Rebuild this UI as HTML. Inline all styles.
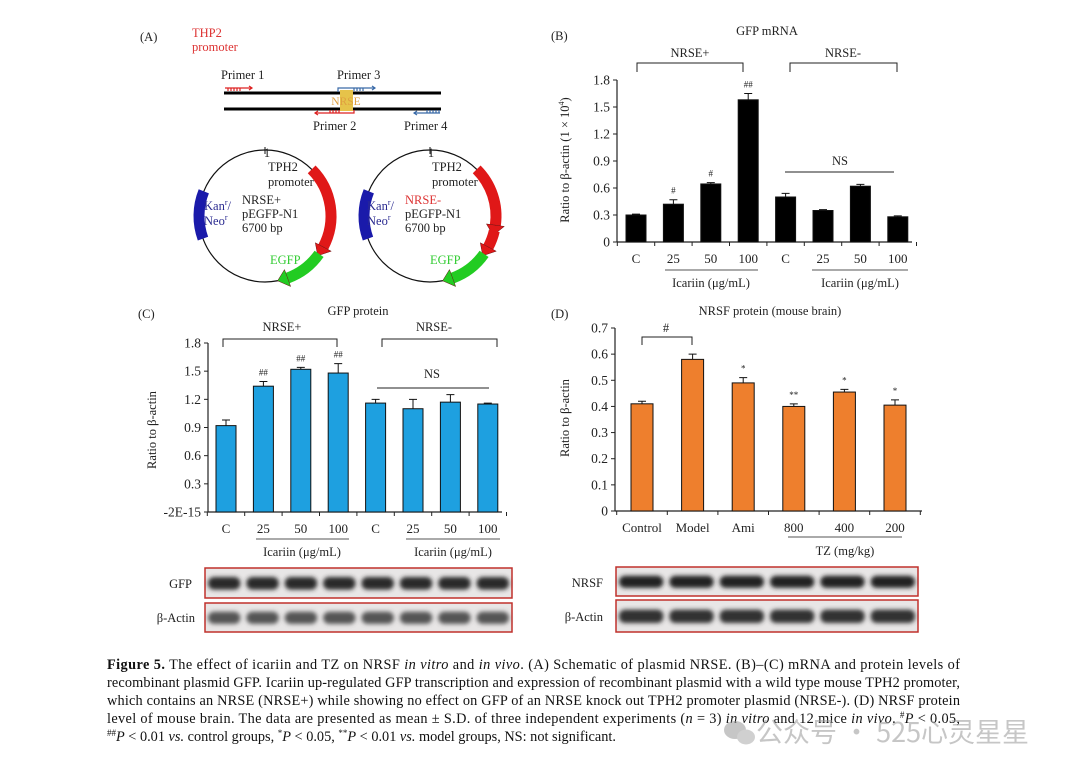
<!DOCTYPE html>
<html><head><meta charset="utf-8"><style>
html,body{margin:0;padding:0;background:#fff;}
svg{display:block;font-family:"Liberation Serif","Noto Serif CJK SC",serif;}
.t{font-size:12.5px;fill:#222;}
.cap{font-size:14.3px;fill:#111;}
</style></head><body>
<svg id="fig" width="1080" height="775" viewBox="0 0 1080 775" xmlns="http://www.w3.org/2000/svg">
<defs>
<filter id="blur" x="-20%" y="-50%" width="140%" height="200%"><feGaussianBlur stdDeviation="2.2"/></filter>
</defs>

<!-- Panel A -->
<g id="panelA">
<text x="140" y="41" class="t" font-size="13">(A)</text>
<text x="192" y="37" font-size="12.5" fill="#d33">THP2</text>
<text x="192" y="51" font-size="12.5" fill="#d33">promoter</text>
<text x="221" y="79" class="t">Primer 1</text>
<text x="337" y="79" class="t">Primer 3</text>
<text x="313" y="130" class="t">Primer 2</text>
<text x="404" y="130" class="t">Primer 4</text>
<line x1="224" y1="93" x2="441" y2="93" stroke="#000" stroke-width="3"/>
<line x1="224" y1="109" x2="441" y2="109" stroke="#000" stroke-width="3"/>
<rect x="340" y="90" width="13" height="21" fill="#e6c34a"/>
<text x="346" y="105" font-size="11.5" fill="#e0a040" text-anchor="middle">NRSE</text>
<g stroke="#d22" stroke-width="1.2" fill="none">
<path d="M225 88 H252"/><path d="M249 86 L252 88 L249 90"/><path d="M228 88v3M231 88v3M234 88v3M237 88v3M240 88v3"/></g>
<g stroke="#3a6aa8" stroke-width="1.2" fill="none">
<path d="M338 92 V88 H375"/><path d="M372 86 L375 88 L372 90"/><path d="M354 88v3M357 88v3M360 88v3M363 88v3"/></g>
<g stroke="#d22" stroke-width="1.2" fill="none">
<path d="M354 110 V113 H315"/><path d="M318 111 L315 113 L318 115"/><path d="M330 113v-3M333 113v-3M336 113v-3M339 113v-3"/></g>
<g stroke="#3a6aa8" stroke-width="1.2" fill="none">
<path d="M440 113 H414"/><path d="M417 111 L414 113 L417 115"/><path d="M427 113v-3M430 113v-3M433 113v-3M436 113v-3M439 113v-3"/></g>
<g id="plasmids"></g>
<text x="267" y="157" class="t" font-size="12" text-anchor="middle">1</text>
<text x="268" y="171" class="t">TPH2</text>
<text x="268" y="186" class="t">promoter</text>
<text x="242" y="204" class="t">NRSE+</text>
<text x="242" y="218" class="t">pEGFP-N1</text>
<text x="242" y="232" class="t">6700 bp</text>
<text x="204" y="210" font-size="12.5" fill="#2a2a90">Kan<tspan font-size="8" dy="-5">r</tspan><tspan dy="5">/</tspan></text>
<text x="204" y="225" font-size="12.5" fill="#2a2a90">Neo<tspan font-size="8" dy="-5">r</tspan></text>
<text x="270" y="264" font-size="12.5" fill="#3c3">EGFP</text>
<text x="431" y="157" class="t" font-size="12" text-anchor="middle">1</text>
<text x="432" y="171" class="t">TPH2</text>
<text x="432" y="186" class="t">promoter</text>
<text x="405" y="204" font-size="12.5" fill="#d33">NRSE-</text>
<text x="405" y="218" class="t">pEGFP-N1</text>
<text x="405" y="232" class="t">6700 bp</text>
<text x="367" y="210" font-size="12.5" fill="#2a2a90">Kan<tspan font-size="8" dy="-5">r</tspan><tspan dy="5">/</tspan></text>
<text x="367" y="225" font-size="12.5" fill="#2a2a90">Neo<tspan font-size="8" dy="-5">r</tspan></text>
<text x="430" y="264" font-size="12.5" fill="#3c3">EGFP</text>
</g>

<!-- Panel B -->
<g id="panelB">
<text x="551" y="40" class="t" font-size="13">(B)</text>
<text x="767" y="35" class="t" font-size="12" text-anchor="middle">GFP mRNA</text>
<text x="690" y="57" class="t" text-anchor="middle">NRSE+</text>
<text x="843" y="57" class="t" text-anchor="middle">NRSE-</text>
<path d="M637 72 V63 H743 V72" fill="none" stroke="#222"/>
<path d="M790 72 V63 H897 V72" fill="none" stroke="#222"/>
<line x1="785" y1="172" x2="894" y2="172" stroke="#222"/>
<text x="840" y="165" class="t" font-size="8.5" text-anchor="middle">NS</text>
<text transform="translate(569,160) rotate(-90)" class="t" font-size="12" text-anchor="middle">Ratio to β-actin (1 × 10<tspan font-size="8" dy="-5">4</tspan><tspan dy="5">)</tspan></text>
<line x1="665" y1="270" x2="758" y2="270" stroke="#555"/>
<line x1="812" y1="270" x2="908" y2="270" stroke="#555"/>
<text x="711" y="287" class="t" text-anchor="middle">Icariin (μg/mL)</text>
<text x="860" y="287" class="t" text-anchor="middle">Icariin (μg/mL)</text>
</g>

<!-- Panel C -->
<g id="panelC">
<text x="138" y="318" class="t" font-size="13">(C)</text>
<text x="358" y="315" class="t" font-size="12" text-anchor="middle">GFP protein</text>
<text x="282" y="331" class="t" text-anchor="middle">NRSE+</text>
<text x="434" y="331" class="t" text-anchor="middle">NRSE-</text>
<path d="M223 347 V339 H337 V347" fill="none" stroke="#222"/>
<path d="M382 347 V339 H497 V347" fill="none" stroke="#222"/>
<line x1="377" y1="388" x2="489" y2="388" stroke="#222"/>
<text x="432" y="378" class="t" font-size="8.5" text-anchor="middle">NS</text>
<text transform="translate(156,430) rotate(-90)" class="t" font-size="12" text-anchor="middle">Ratio to β-actin</text>
<line x1="256" y1="539" x2="349" y2="539" stroke="#555"/>
<line x1="406" y1="539" x2="500" y2="539" stroke="#555"/>
<text x="302" y="556" class="t" text-anchor="middle">Icariin (μg/mL)</text>
<text x="453" y="556" class="t" text-anchor="middle">Icariin (μg/mL)</text>
<text x="192" y="588" class="t" text-anchor="end">GFP</text>
<text x="195" y="622" class="t" text-anchor="end">β-Actin</text>
</g>

<!-- Panel D -->
<g id="panelD">
<text x="551" y="318" class="t" font-size="13">(D)</text>
<text x="770" y="315" class="t" font-size="12" text-anchor="middle">NRSF protein (mouse brain)</text>
<path d="M642 345 V337 H692 V345" fill="none" stroke="#222"/>
<text x="666" y="332" class="t" font-size="9" text-anchor="middle">#</text>
<text transform="translate(569,418) rotate(-90)" class="t" font-size="12" text-anchor="middle">Ratio to β-actin</text>
<line x1="788" y1="537" x2="902" y2="537" stroke="#555"/>
<text x="845" y="555" class="t" text-anchor="middle">TZ (mg/kg)</text>
<text x="603" y="587" class="t" text-anchor="end">NRSF</text>
<text x="603" y="621" class="t" text-anchor="end">β-Actin</text>
</g>

<!-- Caption -->
<g id="caption">
<text x="107" y="669" class="cap" textLength="853" lengthAdjust="spacing"><tspan font-weight="bold">Figure 5.</tspan> The effect of icariin and TZ on NRSF <tspan font-style="italic">in vitro</tspan> and <tspan font-style="italic">in vivo</tspan>. (A) Schematic of plasmid NRSE. (B)–(C) mRNA and protein levels of</text>
<text x="107" y="687" class="cap" textLength="853" lengthAdjust="spacing">recombinant plasmid GFP. Icariin up-regulated GFP transcription and expression of recombinant plasmid with a wild type mouse TPH2 promoter,</text>
<text x="107" y="705" class="cap" textLength="853" lengthAdjust="spacing">which contains an NRSE (NRSE+) while showing no effect on GFP of an NRSE knock out TPH2 promoter plasmid (NRSE-). (D) NRSF protein</text>
<text x="107" y="723" class="cap" textLength="853" lengthAdjust="spacing">level of mouse brain. The data are presented as mean ± S.D. of three independent experiments (<tspan font-style="italic">n</tspan> = 3) <tspan font-style="italic">in vitro</tspan> and 12 mice <tspan font-style="italic">in vivo</tspan>. <tspan font-size="9" dy="-5">#</tspan><tspan font-style="italic" dy="5">P</tspan> &lt; 0.05,</text>
<text x="107" y="741" class="cap"><tspan font-size="9" dy="-5">##</tspan><tspan font-style="italic" dy="5">P</tspan> &lt; 0.01 <tspan font-style="italic">vs.</tspan> control groups, <tspan font-size="9" dy="-5">*</tspan><tspan font-style="italic" dy="5">P</tspan> &lt; 0.05, <tspan font-size="9" dy="-5">**</tspan><tspan font-style="italic" dy="5">P</tspan> &lt; 0.01 <tspan font-style="italic">vs.</tspan> model groups, NS: not significant.</text>
</g>
<g opacity="0.55">
<ellipse cx="735" cy="730" rx="11" ry="9" fill="#999"/><ellipse cx="746" cy="737" rx="9" ry="7.5" fill="#aaa"/>
<text x="756" y="742" font-family="'Noto Sans CJK SC',sans-serif" font-size="27" fill="#999">公众号 · 525心灵星星</text>
</g>
</svg>
<script>
// ---- Panel B data (GFP mRNA) ----
const bCategories = ["C","25","50","100","C","25","50","100"];
const bValues = [0.30, 0.42, 0.645, 1.58, 0.50, 0.35, 0.62, 0.28];
const bErrors = [0.01, 0.05, 0.015, 0.07, 0.04, 0.01, 0.02, 0.01];
const bMarks = ["", "#", "#", "##", "", "", "", ""];
const bTicks = [0, 0.3, 0.6, 0.9, 1.2, 1.5, 1.8];
const bTickLabels = ["0","0.3","0.6","0.9","1.2","1.5","1.8"];
// ---- Panel C data (GFP protein) ----
const cCategories = ["C","25","50","100","C","25","50","100"];
const cValues = [0.92, 1.34, 1.52, 1.48, 1.16, 1.10, 1.17, 1.15];
const cErrors = [0.06, 0.05, 0.02, 0.10, 0.04, 0.10, 0.08, 0.01];
const cMarks = ["", "##", "##", "##", "", "", "", ""];
const cTicks = [0, 0.3, 0.6, 0.9, 1.2, 1.5, 1.8];
const cTickLabels = ["-2E-15","0.3","0.6","0.9","1.2","1.5","1.8"];
// ---- Panel D data (NRSF protein) ----
const dCategories = ["Control","Model","Ami","800","400","200"];
const dValues = [0.41, 0.58, 0.49, 0.40, 0.455, 0.405];
const dErrors = [0.01, 0.02, 0.02, 0.01, 0.01, 0.02];
const dMarks = ["", "", "*", "**", "*", "*"];
const dTicks = [0, 0.1, 0.2, 0.3, 0.4, 0.5, 0.6, 0.7];
const dTickLabels = ["0","0.1","0.2","0.3","0.4","0.5","0.6","0.7"];

const NS = "http://www.w3.org/2000/svg";
function mk(tag, attrs, parent, txt){
  const e = document.createElementNS(NS, tag);
  for (const k in attrs) e.setAttribute(k, attrs[k]);
  if (txt !== undefined) e.textContent = txt;
  parent.appendChild(e);
  return e;
}

function drawChart(cfg){
  const g = document.getElementById(cfg.parent);
  const y = v => cfg.y0 - (v - cfg.vmin) / (cfg.vmax - cfg.vmin) * (cfg.y0 - cfg.y1);
  const x = i => cfg.xc0 + i * cfg.step;
  const ya = mk('line', {x1:cfg.ax, y1:y(cfg.vmax), x2:cfg.ax, y2:cfg.y0, stroke:'#222', 'stroke-width':1.2}, g);
  
  
  const xa = mk('line', {x1:cfg.ax, y1:cfg.y0, x2:cfg.axEnd, y2:cfg.y0, stroke:'#222', 'stroke-width':1.2}, g);
  
  
  cfg.ticks.forEach((t, k) => {
    const tl = mk('line', {x1:cfg.ax-4, y1:y(t), x2:cfg.ax, y2:y(t), stroke:'#222'}, g);
    
    
    const tx = mk('text', {x:cfg.ax-7, y:y(t)+4.5, 'text-anchor':'end', 'font-size':13.5, fill:'#222'}, g, cfg.tickLabels[k]);
    
    
  });
  for (let i = 0; i <= cfg.cats.length; i++) {
    const xx = cfg.xc0 + (i - 0.5) * cfg.step;
    const tk = mk('line', {x1:xx, y1:cfg.y0, x2:xx, y2:cfg.y0+4, stroke:'#222'}, g);
    
    
  }
  cfg.cats.forEach((c, i) => {
    const v = cfg.vals[i], e = cfg.errs[i];
    const bar = mk('rect', {x:x(i)-cfg.bw/2, y:y(v), width:cfg.bw, height:cfg.y0-y(v), fill:cfg.fill, stroke:'#111', 'stroke-width':1}, g);
    
    
    const eb = mk('path', {d:`M${x(i)} ${y(v)} V${y(v+e)} M${x(i)-4} ${y(v+e)} H${x(i)+4}`, stroke:'#111', fill:'none', 'stroke-width':1}, g);
    
    
    if (cfg.marks[i]) {
      const m = mk('text', {x:x(i), y:y(v+e)-6, 'text-anchor':'middle', 'font-size':9, fill:'#222'}, g, cfg.marks[i]);
      
      
    }
    const lb = mk('text', {x:x(i), y:cfg.y0+21, 'text-anchor':'middle', 'font-size':13, fill:'#222'}, g, c);
    
    
  });
}

drawChart({parent:'panelB', id:'panel-b', cats:bCategories, vals:bValues, errs:bErrors, marks:bMarks, ticks:bTicks, tickLabels:bTickLabels,
  vmin:0, vmax:1.8, y0:242, y1:80, ax:617, axEnd:912, xc0:636, step:37.4, bw:20, fill:'#000'});
drawChart({parent:'panelC', id:'panel-c', cats:cCategories, vals:cValues, errs:cErrors, marks:cMarks, ticks:cTicks, tickLabels:cTickLabels,
  vmin:0, vmax:1.8, y0:512, y1:343, ax:208, axEnd:502, xc0:226, step:37.4, bw:20, fill:'#1ea0e0'});
drawChart({parent:'panelD', id:'panel-d', cats:dCategories, vals:dValues, errs:dErrors, marks:dMarks, ticks:dTicks, tickLabels:dTickLabels,
  vmin:0, vmax:0.7, y0:511, y1:328, ax:615, axEnd:922, xc0:642, step:50.6, bw:22, fill:'#ee7f2d'});

function blot(parent, name, x0, y0, w, h, n, dark){
  const g = document.getElementById(parent);
  const r = mk('rect', {x:x0, y:y0, width:w, height:h, fill:'#e8e6e6', stroke:'#c0302c', 'stroke-width':1.5}, g);
  
  
  const lw = w / n;
  for (let i = 0; i < n; i++) {
    const b = mk('rect', {x:x0 + i*lw + 3, y:y0 + h*0.3, width:lw-6, height:h*0.42, rx:6, fill:dark, filter:'url(#blur)'}, g);
    
    
  }
}
blot('panelC', 'gfp-blot', 205, 568, 307, 30, 8, '#2a2a2a');
blot('panelC', 'c-actin-blot', 205, 603, 307, 29, 8, '#555');
blot('panelD', 'nrsf-blot', 616, 567, 302, 29, 6, '#222');
blot('panelD', 'd-actin-blot', 616, 600, 302, 32, 6, '#333');

function arcPath(cx, cy, r, a0, a1){
  const p = a => [cx + r*Math.sin(a*Math.PI/180), cy - r*Math.cos(a*Math.PI/180)];
  const [x0,y0] = p(a0), [x1,y1] = p(a1);
  return `M${x0} ${y0} A${r} ${r} 0 ${(a1-a0)>180?1:0} 1 ${x1} ${y1}`;
}
function arrowHead(cx, cy, r, a){
  const p = (rr, aa) => [cx + rr*Math.sin(aa*Math.PI/180), cy - rr*Math.cos(aa*Math.PI/180)];
  const a1 = p(r+9, a), a2 = p(r-9, a), tip = p(r, a+9);
  return `M${a1[0]} ${a1[1]} L${tip[0]} ${tip[1]} L${a2[0]} ${a2[1]} Z`;
}
const pg = document.getElementById('plasmids');
[[265, false],[430, true]].forEach(([cx, split], k) => {
  const cy = 216, r = 66;
  const c = mk('circle', {cx, cy, r, fill:'none', stroke:'#111', 'stroke-width':1.2}, pg);
  
  
  const tk = mk('line', {x1:cx, y1:cy-r-3, x2:cx, y2:cy-r+4, stroke:'#111'}, pg);
  
  
  const segs = split ? [[45,98,'#e01818'],[103,118,'#e01818'],[125,160,'#22cc22'],[250,292,'#1a1aaa']]
                     : [[45,118,'#e01818'],[125,160,'#22cc22'],[250,292,'#1a1aaa']];
  segs.forEach(([a0,a1,col]) => {
    const s = mk('path', {d:arcPath(cx,cy,r,a0,a1), stroke:col, 'stroke-width':11, fill:'none'}, pg);
    
    
    if (col !== '#1a1aaa') {
      const h = mk('path', {d:arrowHead(cx,cy,r,a1), fill:col, stroke:'#611', 'stroke-width':0.5}, pg);
      
      
    }
  });
});
</script>
</body></html>
